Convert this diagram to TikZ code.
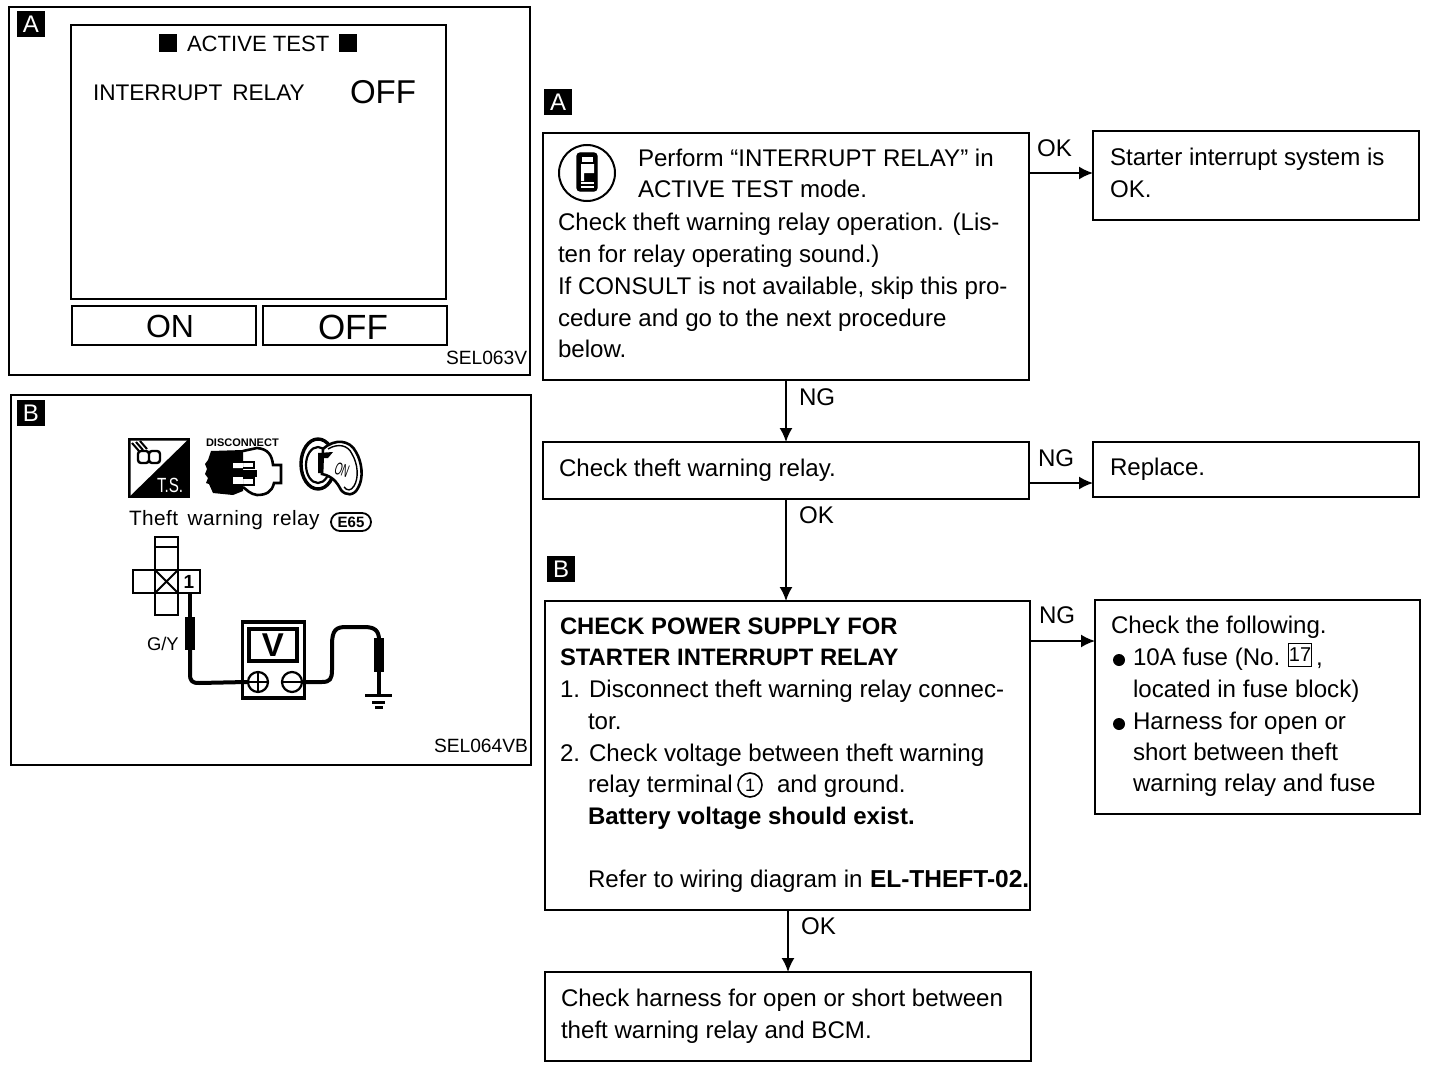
\documentclass[tikz,border=0pt]{standalone}
\usepackage{fontspec}
\setmainfont{Liberation Sans}
\usetikzlibrary{arrows.meta,calc}
\newcounter{tlc}
\newcommand{\tl}[4][]{\stepcounter{tlc}\node[txt,#1] (t\arabic{tlc}) at (#2,#3) {#4};}
\newcommand{\bx}[5]{\node[box,minimum width=#4*0.5pt-#2*0.5pt,minimum height=#5*0.5pt-#3*0.5pt] (#1) at ({(#2+#4)/2},{(#3+#5)/2}) {};}
\newcommand{\tagbox}[4]{\node[tagb] (#1) at (#2,#3) {#4};}
\tikzset{
 x=0.5pt,y=-0.5pt,
 box/.style={draw=black,line width=1.2pt,inner sep=0pt,outer sep=0pt,fill=white},
 txt/.style={anchor=base west,inner sep=0pt,outer sep=0pt,font=\fontsize{12.05}{14}\selectfont,text=black},
 bf/.style={font=\fontsize{12}{14}\selectfont\bfseries},
 tagb/.style={fill=black,text=white,minimum width=14pt,minimum height=13pt,inner sep=0pt,font=\fontsize{12}{12}\selectfont},
 conn/.style={draw=black,line width=0.9pt,-{Latex[length=7pt,width=6.5pt]}},
 wire/.style={line width=2pt,line join=round},
 probe/.style={line width=4.6pt},
}
\begin{document}
\begin{tikzpicture}
\useasboundingbox[fill=white] (0,0) rectangle (1440,1070);
% left panels
\bx{pa}{9}{7}{530}{375}
\bx{pb}{11}{395}{531}{765}
\tagbox{ta}{31}{24}{A}
\tagbox{tb}{31}{413}{B}
\bx{scr}{71}{25}{446}{299}
\bx{bon}{72}{306}{256}{345}
\bx{boff}{263}{306}{447}{345}
\node[font=\fontsize{16}{18}\selectfont,inner sep=0pt] (lon) at (170,326) {ON};
\node[font=\fontsize{17.5}{18}\selectfont,inner sep=0pt] (loff) at (353,327) {OFF};
\node[fill=black,minimum size=9pt,inner sep=0pt] (sq1) at (168,43) {};
\node[fill=black,minimum size=9pt,inner sep=0pt] (sq2) at (348,43) {};
\tl[font=\fontsize{11.05}{14}\selectfont]{187}{52}{ACTIVE TEST}
\tl[font=\fontsize{11.3}{14}\selectfont]{93}{101}{INTERRUPT\, RELAY}
\tl[font=\fontsize{16.5}{18}\selectfont]{350}{104}{OFF}
\tl[font=\fontsize{9.6}{11}\selectfont]{446}{364}{SEL063V}
\tl[font=\fontsize{9.6}{11}\selectfont]{434}{752}{SEL064VB}
% service icons
\filldraw[line width=0.6pt] (129,439) rectangle (189,497);
\fill[white] (130.5,440.5) -- (187,440.5) -- (130.5,495.5) -- cycle;
\draw[line width=1.2pt,rounded corners=1.5pt] (138,451) rectangle (149,463) (149,451) rectangle (160,463);
\draw[line width=1pt] (132,443) -- (139,451) (136,442) -- (143,450) (140,441) -- (147,449);
\tl[font=\fontsize{7.6}{8}\selectfont,text=white]{157}{492}{\scalebox{1}[1.35]{T.S.}}
\tl[font=\fontsize{5.5}{6}\selectfont\bfseries]{206}{446}{DISCONNECT}
\fill (211,451) -- (243,450) -- (243,491) -- (233,495) -- (213,493) -- (209,484) -- (206,483) -- (208,478) -- (205,474) -- (207,469) -- (205,464) -- (208,460) -- cycle;
\fill[white] (233,462) rectangle (243,468) (233,477) rectangle (243,485);
\fill (243,470) rectangle (257,477);
\draw[line width=1pt] (233,462) -- (254,462) -- (254,468) -- (243,468) (233,485) -- (254,485) -- (254,478) -- (243,478);
\draw[line width=1.3pt] (243,451) -- (257,448) .. controls (268,449) and (272,455) .. (273,465) -- (281,465) -- (281,483) -- (274,483) .. controls (272,492) and (266,495) .. (257,495) .. controls (250,494) and (247,490) .. (243,487);
\draw[line width=1.7pt] (318,464) ellipse [x radius=17,y radius=25];
\draw[line width=1.1pt] (318,465) ellipse [x radius=12,y radius=18];
\filldraw[fill=white,line width=1.3pt] (323,449) .. controls (335,438) and (350,440) .. (356,452) .. controls (362,462) and (364,478) .. (358,488) .. controls (354,496) and (346,496) .. (341,490) .. controls (337,482) and (332,476) .. (322,474) -- cycle;
\draw[line width=0.7pt] (328,449) .. controls (338,443) and (348,445) .. (352,454) .. controls (358,464) and (359,478) .. (354,486) .. controls (351,491) and (347,491) .. (344,487);
\fill (318,453) -- (333,452) -- (328,458) -- (323,458) -- (323,473) -- (318,473) -- cycle;
\node[rotate=-20,font=\fontsize{5.5}{6}\selectfont,inner sep=0pt] (keyon) at (342,470) {\scalebox{0.85}[1.6]{ON}};
\tl[font=\fontsize{10.4}{12}\selectfont\addfontfeature{LetterSpace=2}]{129}{525}{Theft\, warning\, relay}
\node[draw,rounded corners=4.5pt,line width=0.9pt,font=\fontsize{7.5}{8}\selectfont\bfseries,inner sep=0pt,minimum width=20pt,minimum height=9pt] (e65) at (351,522) {E65};
% connector symbol
\draw[line width=0.9pt] (155,537) rectangle (178,615) (155,547) -- (178,547) (133,570) rectangle (200,593) (155,570) -- (178,593) (178,570) -- (155,593);
\draw[line width=0.9pt,fill=white] (178,570) rectangle (200,593);
\node[font=\fontsize{9.5}{10}\selectfont\bfseries,inner sep=0pt] (one) at (189,582) {1};
% meter
\node[draw,line width=1.7pt,minimum width=31pt,minimum height=38pt,inner sep=0pt] (meter) at (273.5,660) {};
\node[draw,line width=1.7pt,minimum width=24pt,minimum height=16pt,inner sep=0pt,font=\fontsize{16.5}{17}\selectfont\bfseries] (vv) at (273,645) {V};
\node[draw,circle,line width=1.1pt,minimum size=10pt,inner sep=0pt] (plus) at (258,682) {};
\node[draw,circle,line width=1.1pt,minimum size=10pt,inner sep=0pt] (minus) at (292,682) {};
\draw[line width=1pt] (248,682) -- (268,682) (258,672) -- (258,692) (282,682) -- (302,682);
\coordinate (w1) at (190,593); \coordinate (w2) at (190,617); \coordinate (w3) at (190,650);
\draw[wire] (w1) -- (w2);
\draw[probe] (w2) -- (w3);
\draw[wire] (w3) -- (190,674) .. controls (190,681) and (192,683) .. (199,683) -- (plus.west);
\draw[wire] (minus.east) -- (322,682) .. controls (330,682) and (332,679) .. (332,670) -- (332,645) .. controls (332,630) and (336,627) .. (346,627) -- (364,627) .. controls (374,627) and (379,630) .. (379,640);
\draw[probe] (379,638) -- (379,672);
\draw[wire] (379,672) -- (379,695);
\draw[line width=1.5pt] (365,695) -- (392,695) (372,702) -- (385,702) (375,707) -- (383,707);
\tl[font=\fontsize{9.2}{11}\selectfont]{147}{650}{G/Y}
% flow tags
\tagbox{tfa}{558}{102}{A}
\tagbox{tfb}{561}{569}{B}
% boxes
\bx{a}{543}{133}{1029}{380}
\bx{aok}{1093}{131}{1419}{220}
\bx{c}{543}{442}{1029}{499}
\bx{rep}{1093}{442}{1419}{497}
\bx{p}{545}{601}{1030}{910}
\bx{chk}{1095}{600}{1420}{814}
\bx{h}{545}{972}{1031}{1061}
% icon
\node[draw,circle,line width=1pt,minimum size=28pt,inner sep=0pt] (ico) at (587,173) {};
\filldraw[line width=0.6pt,rounded corners=1.5pt] (577,153) rectangle (597,191);
\fill[white] (582,157) rectangle (593,162);
\fill[white] (581,164) rectangle (594,173) (581,173) rectangle (584,181);
\draw[white,line width=0.7pt] (581,183) -- (594,183) (581,187) -- (594,187);
% texts A
\tl{638}{166}{Perform “INTERRUPT RELAY” in}
\tl{638}{198}{ACTIVE TEST mode.}
\tl{558}{230}{Check theft warning relay operation. (Lis-}
\tl{558}{262}{ten for relay operating sound.)}
\tl{558}{294}{If CONSULT is not available, skip this pro-}
\tl{558}{326}{cedure and go to the next procedure}
\tl{558}{357}{below.}
\tl{1110}{165}{Starter interrupt system is}
\tl{1110}{197}{OK.}
\tl{559}{476}{Check theft warning relay.}
\tl{1110}{475}{Replace.}
% texts P
\tl[font=\fontsize{11.9}{14}\selectfont\bfseries]{560}{634}{CHECK POWER SUPPLY FOR}
\tl[font=\fontsize{11.9}{14}\selectfont\bfseries]{560}{665}{STARTER INTERRUPT RELAY}
\tl{560}{697}{1. Disconnect theft warning relay connec-}
\tl{588}{729}{tor.}
\tl{560}{761}{2. Check voltage between theft warning}
\tl{588}{792}{relay terminal}
\node[draw,circle,line width=0.8pt,minimum size=12pt,inner sep=0pt,font=\fontsize{9}{10}\selectfont] (c1) at (750,785) {1};
\tl{777}{792}{and ground.}
\tl[bf]{588}{824}{Battery voltage should exist.}
\tl{588}{887}{Refer to wiring diagram in}
\tl[font=\fontsize{12.25}{14}\selectfont\bfseries]{870}{887}{EL-THEFT-02.}
% texts chk
\tl{1111}{633}{Check the following.}
\node[circle,fill=black,minimum size=6pt,inner sep=0pt] (b1) at (1119,660) {};
\tl{1133}{665}{10A fuse (No.}
\node[draw,line width=0.8pt,minimum width=11.5pt,minimum height=11.5pt,inner sep=0pt,font=\fontsize{10}{11}\selectfont] (n17) at (1300,655) {17};
\tl{1316}{665}{,}
\tl{1133}{697}{located in fuse block)}
\node[circle,fill=black,minimum size=6pt,inner sep=0pt] (b2) at (1119,724) {};
\tl{1133}{729}{Harness for open or}
\tl{1133}{760}{short between theft}
\tl{1133}{791}{warning relay and fuse}
\tl{561}{1006}{Check harness for open or short between}
\tl{561}{1038}{theft warning relay and BCM.}
% connectors
\coordinate (s1) at (1029,173);
\draw[conn] (s1) -- (s1 -| aok.west);
\coordinate (s2) at (786,380);
\draw[conn] (s2) -- (s2 |- c.north);
\coordinate (s3) at (1029,483);
\draw[conn] (s3) -- (s3 -| rep.west);
\coordinate (s4) at (786,499);
\draw[conn] (s4) -- (s4 |- p.north);
\coordinate (s5) at (1030,641);
\draw[conn] (s5) -- (s5 -| chk.west);
\coordinate (s6) at (788,910);
\draw[conn] (s6) -- (s6 |- h.north);
\tl{1037}{156}{OK}
\tl{799}{405}{NG}
\tl{1038}{466}{NG}
\tl{799}{523}{OK}
\tl{1039}{623}{NG}
\tl{801}{934}{OK}
\end{tikzpicture}
\end{document}
